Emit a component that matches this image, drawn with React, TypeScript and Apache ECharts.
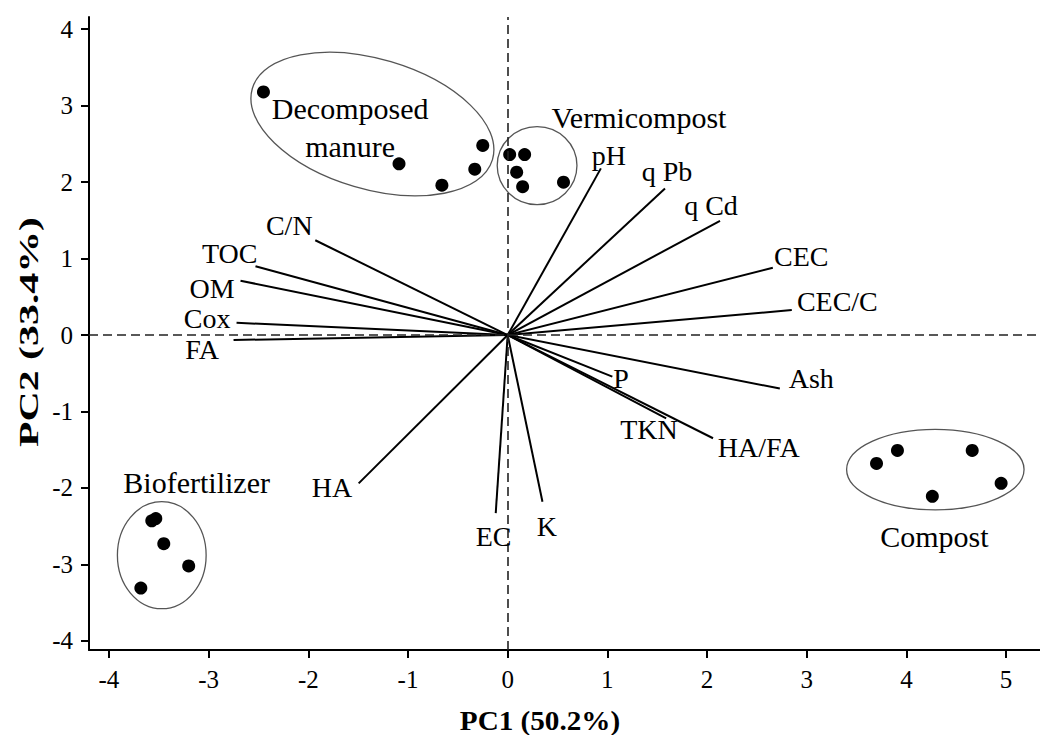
import React, { useEffect, useRef } from "react";
import * as echarts from "echarts";

const xTicks = [-4, -3, -2, -1, 0, 1, 2, 3, 4, 5];
const yTicks = [-4, -3, -2, -1, 0, 1, 2, 3, 4];

const xTitle = "PC1 (50.2%)";
const yTitle = "PC2 (33.4%)";

// sample scores (PC1, PC2)
const decomposedManure = [[-2.45, 3.18], [-1.09, 2.24], [-0.66, 1.96], [-0.33, 2.17], [-0.25, 2.48]];
const vermicompost = [[0.02, 2.36], [0.17, 2.36], [0.09, 2.13], [0.15, 1.94], [0.56, 2.0]];
const compost = [[3.7, -1.68], [3.91, -1.51], [4.66, -1.51], [4.95, -1.94], [4.26, -2.11]];
const biofertilizer = [[-3.57, -2.43], [-3.53, -2.4], [-3.45, -2.73], [-3.2, -3.02], [-3.68, -3.31]];

// variable loadings
const variableNames = ["pH", "q Pb", "q Cd", "CEC", "CEC/C", "C/N", "TOC", "OM", "Cox", "FA", "P", "Ash", "TKN", "HA/FA", "K", "EC", "HA"];
const loadingX = [0.935, 1.578, 2.13, 2.66, 2.85, -1.93, -2.53, -2.68, -2.72, -2.75, 1.05, 2.73, 1.59, 2.06, 0.349, -0.12, -1.495];
const loadingY = [2.18, 1.918, 1.494, 0.88, 0.327, 1.24, 0.9, 0.71, 0.16, -0.065, -0.545, -0.7, -1.09, -1.35, -2.18, -2.33, -1.94];
const labelX = [1.015, 1.598, 2.04, 2.945, 3.307, -2.191, -2.789, -2.965, -3.015, -3.065, 1.136, 3.045, 1.417, 2.518, 0.392, -0.141, -1.762];
const labelY = [2.353, 2.144, 1.699, 1.033, 0.444, 1.438, 1.072, 0.614, 0.222, -0.183, -0.575, -0.575, -1.242, -1.477, -2.51, -2.641, -2.0];

// group annotations
const groupNames = ["Decomposed\nmanure", "Vermicompost", "Compost", "Biofertilizer"];
const groupLabelX = [-1.58, 1.317, 4.28, -3.12];
const groupLabelY = [2.72, 2.85, -2.64, -1.93];
// ellipses: centre x, centre y, radius x, radius y, rotation (deg)
const ellipseCx = [-1.357, 0.295, 4.29, -3.47];
const ellipseCy = [2.76, 2.216, -1.76, -2.88];
const ellipseRx = [1.256, 0.4, 0.89, 0.445];
const ellipseRy = [0.85, 0.51, 0.527, 0.7];
const ellipseRot = [-16.5, 0, 0, 0];

const FONT = "'Liberation Serif', 'Times New Roman', serif";

export default function App() {
  const ref = useRef<HTMLDivElement>(null);
  useEffect(() => {
    if (!ref.current) return;
    const chart = echarts.init(ref.current, null, { renderer: "svg" });
    const allPoints = [...decomposedManure, ...vermicompost, ...compost, ...biofertilizer];
    chart.setOption({
      animation: false,
      backgroundColor: "#fff",
      grid: { left: 89, top: 17, right: 0, bottom: 85 },
      xAxis: {
        type: "value",
        min: -4.2,
        max: 5.34,
        splitLine: { show: false },
        axisLine: { show: true, onZero: false, lineStyle: { color: "#000", width: 2 } },
        axisTick: { show: true, customValues: xTicks, length: 8, lineStyle: { color: "#000", width: 2 } },
        axisLabel: { customValues: xTicks, fontFamily: FONT, fontSize: 25, color: "#000", margin: 17 },
      },
      yAxis: {
        type: "value",
        min: -4.12,
        max: 4.16,
        splitLine: { show: false },
        axisLine: { show: true, onZero: false, lineStyle: { color: "#000", width: 2 } },
        axisTick: { show: true, customValues: yTicks, length: 8, lineStyle: { color: "#000", width: 2 } },
        axisLabel: { customValues: yTicks, fontFamily: FONT, fontSize: 25, color: "#000", margin: 16 },
      },
      graphic: [
        {
          type: "text",
          x: 540,
          y: 721,
          scaleX: 1.08,
          style: { text: xTitle, font: `bold 27px ${FONT}`, fill: "#000", align: "center", verticalAlign: "middle" },
        },
        {
          type: "text",
          x: 29,
          y: 332,
          rotation: Math.PI / 2,
          scaleX: 1.55,
          style: { text: yTitle, font: `bold 27px ${FONT}`, fill: "#000", align: "center", verticalAlign: "middle" },
        },
      ],
      series: [
        {
          type: "scatter",
          name: "refLines",
          data: [],
          z: 1,
          markLine: {
            silent: true,
            symbol: "none",
            label: { show: false },
            lineStyle: { type: [9, 5], color: "#222", width: 1.6 },
            data: [{ xAxis: 0 }, { yAxis: 0 }],
          },
        },
        {
          type: "custom",
          name: "ellipses",
          z: 2,
          data: ellipseCx.map((cx, i) => [cx, ellipseCy[i], ellipseRx[i], ellipseRy[i], ellipseRot[i]]),
          renderItem: (params: any, api: any) => {
            const c = api.coord([api.value(0), api.value(1)]);
            const s = api.size([api.value(2), api.value(3)]);
            return {
              type: "ellipse",
              x: c[0],
              y: c[1],
              rotation: (api.value(4) * Math.PI) / 180,
              shape: { cx: 0, cy: 0, rx: s[0], ry: s[1] },
              style: { fill: "none", stroke: "#555", lineWidth: 1.3 },
            };
          },
        },
        {
          type: "lines",
          name: "loadings",
          coordinateSystem: "cartesian2d",
          z: 3,
          symbol: "none",
          lineStyle: { color: "#000", width: 2, opacity: 1 },
          data: variableNames.map((n, i) => ({ name: n, coords: [[0, 0], [loadingX[i], loadingY[i]]] })),
        },
        {
          type: "scatter",
          name: "scores",
          z: 4,
          symbolSize: 13,
          itemStyle: { color: "#000", opacity: 1 },
          data: allPoints,
        },
        {
          type: "scatter",
          name: "variableLabels",
          z: 5,
          symbolSize: 1,
          itemStyle: { color: "transparent" },
          label: { show: true, position: "inside", formatter: "{b}", fontFamily: FONT, fontSize: 28, color: "#000", opacity: 1 },
          data: variableNames.map((n, i) => ({ name: n, value: [labelX[i], labelY[i]] })),
        },
        {
          type: "scatter",
          name: "groupLabels",
          z: 5,
          symbolSize: 1,
          itemStyle: { color: "transparent" },
          label: { show: true, position: "inside", formatter: "{b}", fontFamily: FONT, fontSize: 30, lineHeight: 38, color: "#000", opacity: 1 },
          data: groupNames.map((n, i) => ({ name: n, value: [groupLabelX[i], groupLabelY[i]] })),
        },
      ],
    });
    return () => chart.dispose();
  }, []);
  return <div ref={ref} style={{ position: "absolute", left: 0, top: 0, width: 1040, height: 735 }} />;
}
